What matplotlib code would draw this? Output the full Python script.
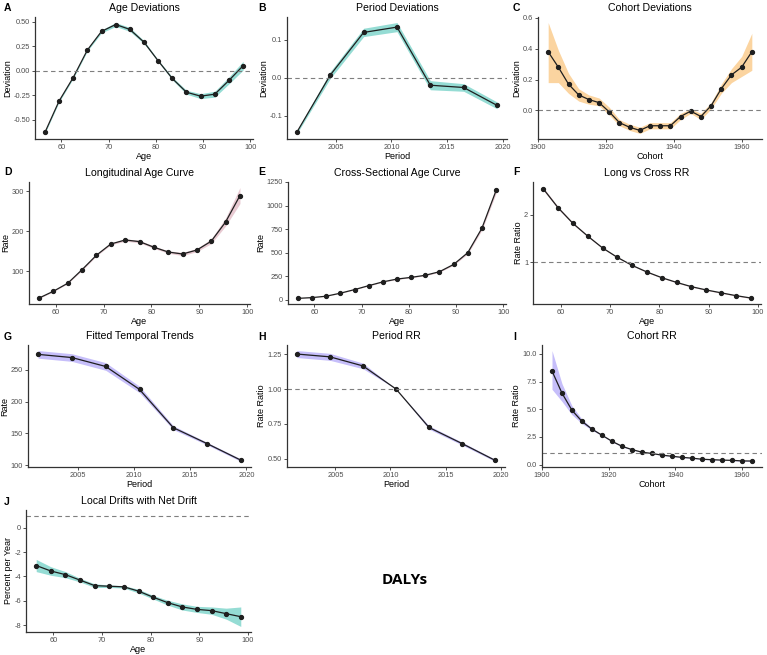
"""
APC model summary panels (DALYs).
"""
import numpy as np
import matplotlib
matplotlib.use('Agg')
import matplotlib.pyplot as plt

plt.rcParams['font.family'] = ['Liberation Sans', 'DejaVu Sans']

# x values
ages = [56.5, 59.5, 62.5, 65.5, 68.5, 71.5, 74.5, 77.5, 80.5, 83.5, 86.5, 89.5, 92.5, 95.5, 98.5]
periods = [2001.5, 2004.5, 2007.5, 2010.5, 2013.5, 2016.5, 2019.5]
cohorts = [1903, 1906, 1909, 1912, 1915, 1918, 1921, 1924, 1927, 1930, 1933, 1936, 1939,
           1942, 1945, 1948, 1951, 1954, 1957, 1960, 1963]

# A age deviations
ageDev = [-0.63, -0.31, -0.07, 0.21, 0.40, 0.47, 0.42, 0.29, 0.10, -0.08, -0.22, -0.26, -0.24, -0.10, 0.05]
ageDevHw = [0.01, 0.01, 0.01, 0.01, 0.015, 0.02, 0.02, 0.015, 0.01, 0.015, 0.02, 0.025, 0.03, 0.035, 0.045]

# B period deviations
perDev = [-0.143, 0.007, 0.119, 0.133, -0.020, -0.026, -0.073]
perDevHw = [0.004, 0.009, 0.011, 0.012, 0.012, 0.010, 0.009]

# C cohort deviations
cohDev = [0.38, 0.28, 0.17, 0.10, 0.07, 0.05, -0.01, -0.08, -0.11, -0.13, -0.10, -0.10, -0.10,
          -0.04, -0.005, -0.04, 0.03, 0.14, 0.23, 0.28, 0.38]
cohDevHi = [0.57, 0.39, 0.24, 0.14, 0.10, 0.08, 0.02, -0.06, -0.09, -0.11, -0.08, -0.08, -0.08,
            -0.02, 0.01, -0.02, 0.05, 0.17, 0.27, 0.35, 0.50]
cohDevLo = [0.18, 0.18, 0.11, 0.06, 0.04, 0.03, -0.03, -0.10, -0.13, -0.15, -0.12, -0.12, -0.12,
            -0.06, -0.02, -0.06, 0.01, 0.11, 0.18, 0.22, 0.26]

# D longitudinal age curve
longAge = [33, 50, 70, 104, 140, 168, 178, 174, 160, 148, 143, 153, 175, 223, 289]
longAgeHw = [1, 1, 1, 2, 2, 2, 3, 3, 3, 3, 4, 4, 6, 10, 20]

# E cross-sectional age curve
crossAge = [15, 23, 38, 70, 108, 150, 190, 220, 238, 260, 298, 375, 500, 760, 1160]
crossAgeHw = [1, 1, 1, 2, 2, 3, 3, 4, 4, 5, 6, 8, 12, 20, 30]

# F long vs cross RR
lcRR = [2.55, 2.15, 1.82, 1.55, 1.30, 1.10, 0.93, 0.79, 0.67, 0.57, 0.48, 0.41, 0.35, 0.29, 0.24]
lcRRHw = [0.03, 0.025, 0.02, 0.015, 0.012, 0.01, 0.01, 0.01, 0.01, 0.01, 0.01, 0.01, 0.01, 0.01, 0.01]

# G fitted temporal trends
fitTrend = [274, 269, 255, 219, 159, 134, 108]
fitTrendHw = [6, 6, 6, 5, 3, 2, 2]

# H period RR
perRR = [1.25, 1.23, 1.165, 1.00, 0.725, 0.61, 0.49]
perRRHw = [0.025, 0.025, 0.02, 0.0, 0.012, 0.01, 0.008]

# I cohort RR
cohRR = [8.45, 6.45, 4.9, 3.9, 3.2, 2.65, 2.1, 1.65, 1.35, 1.12, 1.0, 0.85, 0.75, 0.65, 0.58,
         0.48, 0.44, 0.40, 0.38, 0.33, 0.32]
cohRRHi = [10.3, 7.3, 5.3, 4.1, 3.3, 2.7, 2.15, 1.7, 1.38, 1.14, 1.01, 0.87, 0.77, 0.67, 0.6,
           0.5, 0.46, 0.42, 0.4, 0.36, 0.36]
cohRRLo = [6.8, 5.7, 4.5, 3.7, 3.1, 2.6, 2.05, 1.6, 1.32, 1.1, 0.99, 0.83, 0.73, 0.63, 0.56,
           0.46, 0.42, 0.38, 0.36, 0.30, 0.28]

# J local drifts
drift = [-3.1, -3.55, -3.85, -4.3, -4.75, -4.8, -4.85, -5.2, -5.7, -6.15, -6.5, -6.7, -6.8, -7.05, -7.3]
driftHi = [-2.6, -3.2, -3.6, -4.15, -4.6, -4.7, -4.75, -5.05, -5.55, -5.95, -6.25, -6.45, -6.5, -6.6, -6.5]
driftLo = [-3.6, -3.9, -4.1, -4.45, -4.9, -4.9, -4.95, -5.35, -5.85, -6.35, -6.75, -6.95, -7.1, -7.5, -8.1]
netDrift = 1.0

TEAL = '#95dcd4'
ORANGE = '#fbd4a0'
PINK = '#e8cad2'
PURPLE = '#c6befa'
LINE = '#1f1f1f'

W, H = 767.0, 655.0


def mkAx(fig, l, t, r, b):
    """
    Axes from pixel box (left, top, right, bottom).
    """
    ax = fig.add_axes([l / W, 1 - b / H, (r - l) / W, (b - t) / H])
    for s in ['top', 'right']:
        ax.spines[s].set_visible(False)
    for s in ['left', 'bottom']:
        ax.spines[s].set_linewidth(0.9)
        ax.spines[s].set_color('#333333')
    ax.tick_params(labelsize=5.3, length=2, width=0.6, colors='#333333', labelcolor='#4d4d4d', pad=1.5)
    return ax


def shPanel(ax, x, y, lo, hi, col, lab, labPos, title, xlab, ylab, yticks, yfmt, hline=None):
    """
    Draw one panel.
    """
    ax.fill_between(x, lo, hi, color=col, lw=0)
    ax.plot(x, y, '-', color=LINE, lw=0.9)
    ax.plot(x, y, 'o', color=LINE, ms=2.8)
    if hline is not None:
        ax.axhline(hline, ls=(0, (4, 3)), color='#7f7f7f', lw=0.8)
    ax.set_yticks(yticks)
    ax.set_yticklabels([yfmt.format(v) for v in yticks])
    ax.set_xlabel(xlab, fontsize=6.5, labelpad=1)
    ax.set_ylabel(ylab, fontsize=6.5, labelpad=1)
    ax.set_title(title, fontsize=7.6, pad=4)
    ax.figure.text(labPos[0] / W, 1 - labPos[1] / H, lab, fontsize=7.5, fontweight='bold',
                   ha='left', va='center')


def band(y, hw):
    y = np.asarray(y, float)
    hw = np.asarray(hw, float)
    return y - hw, y + hw


fig = plt.figure(figsize=(7.67, 6.55), dpi=100)

ageT = [60, 70, 80, 90, 100]
perT = [2005, 2010, 2015, 2020]
cohT = [1900, 1920, 1940, 1960]
colX = [4, 258, 513]
rowY = [8, 172, 337, 502]

# row 1
ax = mkAx(fig, 35, 17, 253, 139)
lo, hi = band(ageDev, ageDevHw)
shPanel(ax, ages, ageDev, lo, hi, TEAL, 'A', (colX[0], rowY[0]), 'Age Deviations', 'Age', 'Deviation',
        [-0.5, -0.25, 0, 0.25, 0.5], '{:.2f}', hline=0)
ax.set_xticks(ageT); ax.set_xlim(54.4, 100.6)

ax = mkAx(fig, 287, 17, 507, 139)
lo, hi = band(perDev, perDevHw)
shPanel(ax, periods, perDev, lo, hi, TEAL, 'B', (colX[1], rowY[0]), 'Period Deviations', 'Period',
        'Deviation', [-0.1, 0, 0.1], '{:.1f}', hline=0)
ax.set_xticks(perT); ax.set_xlim(2000.6, 2020.4)

ax = mkAx(fig, 538, 17, 762, 139)
shPanel(ax, cohorts, cohDev, cohDevLo, cohDevHi, ORANGE, 'C', (colX[2], rowY[0]), 'Cohort Deviations',
        'Cohort', 'Deviation', [0, 0.2, 0.4, 0.6], '{:.1f}', hline=0)
ax.set_xticks(cohT); ax.set_xlim(1900, 1966)

# row 2
ax = mkAx(fig, 29, 182, 250, 304)
lo, hi = band(longAge, longAgeHw)
shPanel(ax, ages, longAge, lo, hi, PINK, 'D', (colX[0], rowY[1]), 'Longitudinal Age Curve', 'Age',
        'Rate', [100, 200, 300], '{:d}')
ax.set_xticks(ageT); ax.set_xlim(54.4, 100.6)

ax = mkAx(fig, 288, 182, 506, 304)
lo, hi = band(crossAge, crossAgeHw)
shPanel(ax, ages, crossAge, lo, hi, PINK, 'E', (colX[1], rowY[1]), 'Cross-Sectional Age Curve', 'Age',
        'Rate', [0, 250, 500, 750, 1000, 1250], '{:d}')
ax.set_xticks(ageT); ax.set_xlim(54.4, 100.6)

ax = mkAx(fig, 533, 182, 761, 304)
lo, hi = band(lcRR, lcRRHw)
shPanel(ax, ages, lcRR, lo, hi, PINK, 'F', (colX[2], rowY[1]), 'Long vs Cross RR', 'Age', 'Rate Ratio',
        [1, 2], '{:d}', hline=1)
ax.set_xticks(ageT); ax.set_xlim(54.4, 100.6)

# row 3
ax = mkAx(fig, 28, 345, 251, 467)
lo, hi = band(fitTrend, fitTrendHw)
shPanel(ax, periods, fitTrend, lo, hi, PURPLE, 'G', (colX[0], rowY[2]), 'Fitted Temporal Trends',
        'Period', 'Rate', [100, 150, 200, 250], '{:d}')
ax.set_xticks(perT); ax.set_xlim(2000.6, 2020.4)

ax = mkAx(fig, 287, 345, 505, 467)
lo, hi = band(perRR, perRRHw)
shPanel(ax, periods, perRR, lo, hi, PURPLE, 'H', (colX[1], rowY[2]), 'Period RR', 'Period',
        'Rate Ratio', [0.5, 0.75, 1.0, 1.25], '{:.2f}', hline=1)
ax.set_xticks(perT); ax.set_xlim(2000.6, 2020.4)

ax = mkAx(fig, 542, 345, 762, 467)
shPanel(ax, cohorts, cohRR, cohRRLo, cohRRHi, PURPLE, 'I', (colX[2], rowY[2]), 'Cohort RR', 'Cohort',
        'Rate Ratio', [0, 2.5, 5.0, 7.5, 10.0], '{:.1f}', hline=1)
ax.set_xticks(cohT); ax.set_xlim(1900, 1966)

# row 4
ax = mkAx(fig, 26, 510, 251, 632)
shPanel(ax, ages, drift, driftLo, driftHi, TEAL, 'J', (colX[0], rowY[3]), 'Local Drifts with Net Drift',
        'Age', 'Percent per Year', [-8, -6, -4, -2, 0], '{:d}', hline=netDrift)
ax.set_xticks(ageT); ax.set_xlim(54.4, 100.6)

fig.text(405 / W, 1 - 580 / H, 'DALYs', fontsize=11, fontweight='bold',
         family=['Open Sans', 'DejaVu Sans'], ha='center', va='center')

fig.savefig('out.png', dpi=100)
